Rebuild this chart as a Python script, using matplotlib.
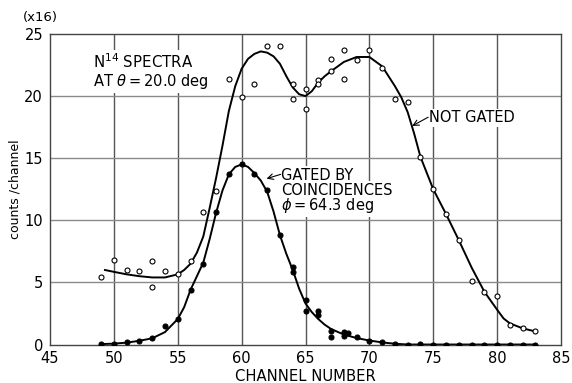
import matplotlib
matplotlib.use("Agg")
import matplotlib.pyplot as plt

# puntos medidos, sin coincidencias (circulos abiertos)
canal_libre = [49, 50, 51, 52, 53, 53, 54, 55, 56, 57, 58, 59, 60, 61, 62, 63, 64, 64,
               65, 65, 66, 66, 67, 67, 68, 68, 69, 70, 71, 72, 73, 74, 75, 76, 77, 78,
               79, 80, 81, 82, 83]
cuentas_libre = [5.4, 6.8, 6.0, 5.9, 6.7, 4.6, 5.9, 5.7, 6.7, 10.7, 12.4, 21.4, 19.9, 21.0,
                 24.0, 24.0, 21.0, 19.8, 20.6, 19.0, 21.3, 21.0, 23.0, 22.0, 23.7, 21.4,
                 22.9, 23.7, 22.3, 19.8, 19.5, 15.1, 12.5, 10.5, 8.4, 5.1, 4.25, 3.9,
                 1.6, 1.3, 1.07]

# puntos con coincidencias (circulos llenos)
canal_coinc = [49, 50, 51, 52, 53, 54, 55, 56, 57, 58, 59, 60, 61, 62, 63, 64, 64, 65, 65,
               66, 66, 67, 67, 68, 68, 68.35, 69, 70, 71, 72, 73, 74, 75, 76, 77, 78, 79,
               80, 81, 82, 83]
cuentas_coinc = [0.08, 0.08, 0.19, 0.3, 0.5, 1.45, 2.05, 4.4, 6.5, 10.7, 13.75, 14.5, 13.7,
                 12.45, 8.8, 6.27, 5.83, 3.55, 2.66, 2.72, 2.38, 1.07, 0.57, 1.02, 0.72,
                 0.89, 0.62, 0.32, 0.21, 0.03, 0.0, 0.07, 0.0, 0.0, 0.0, 0.0, 0.0, 0.0,
                 0.0, 0.0, 0.0]

# curvas dibujadas a mano
curva_libre_x = [49.3, 50, 51, 52, 53, 54, 55, 55.5, 56, 56.5, 57, 57.5, 58, 58.5, 59, 59.5,
                 60, 60.5, 61, 61.5, 62, 62.5, 63, 63.5, 64, 64.5, 65, 65.5, 66, 66.5, 67,
                 68, 69, 70, 71, 72, 72.5, 73, 73.5, 74, 74.5, 75, 76, 77, 78, 79, 80,
                 80.5, 81, 82, 83]
curva_libre_y = [6.0, 5.85, 5.65, 5.5, 5.4, 5.4, 5.65, 6.0, 6.5, 7.4, 8.7, 11.0, 13.4, 16.0,
                 18.8, 20.8, 22.2, 23.0, 23.4, 23.6, 23.5, 23.2, 22.6, 21.6, 20.7, 20.15,
                 20.0, 20.4, 21.1, 21.6, 22.0, 22.75, 23.15, 23.15, 22.4, 20.8, 19.9, 18.7,
                 17.0, 15.1, 13.8, 12.5, 10.5, 8.4, 6.2, 4.25, 2.8, 2.1, 1.7, 1.3, 1.05]

curva_coinc_x = [49, 50, 51, 52, 53, 54, 55, 55.5, 56, 57, 57.5, 58, 58.5, 59, 59.5, 60,
                 60.5, 61, 61.5, 62, 62.5, 63, 63.5, 64, 64.5, 65, 65.5, 66, 66.5, 67, 68,
                 69, 70, 71, 72, 73, 83]
curva_coinc_y = [0.03, 0.07, 0.15, 0.3, 0.5, 1.0, 2.05, 3.0, 4.4, 6.6, 8.5, 10.6, 12.4,
                 13.7, 14.3, 14.5, 14.3, 13.8, 13.2, 12.3, 10.7, 8.8, 7.3, 6.0, 4.5, 3.3,
                 2.6, 2.05, 1.6, 1.25, 0.8, 0.52, 0.32, 0.17, 0.06, 0.0, 0.0]

ticks_x = [45, 50, 55, 60, 65, 70, 75, 80, 85]
ticks_y = [0, 5, 10, 15, 20, 25]

plt.rcParams['font.family'] = ['DejaVu Sans']
fig = plt.figure(figsize=(5.72, 3.83), dpi=100)
ax = fig.add_axes([0.0874, 0.1005, 0.8934, 0.8107])

for x in ticks_x[1:-1]:
    ax.axvline(x, color='#555555', lw=1.0, zorder=0)
for y in ticks_y[1:-1]:
    ax.axhline(y, color='#8a8a8a', lw=1.0, zorder=0)

ax.plot(curva_libre_x, curva_libre_y, color='black', lw=1.4, zorder=2)
ax.plot(curva_coinc_x, curva_coinc_y, color='black', lw=1.4, zorder=2)
ax.plot(canal_libre, cuentas_libre, 'o', ms=3.6, mfc='white', mec='black', mew=0.8, zorder=3)
ax.plot(canal_coinc, cuentas_coinc, 'o', ms=3.6, mfc='black', mec='black', mew=0.8, zorder=3)

ax.set_xlim(45, 85)
ax.set_ylim(0, 25)
ax.set_xticks(ticks_x)
ax.set_yticks(ticks_y)
ax.tick_params(length=0, labelsize=10.5, pad=5)
for s in ax.spines.values():
    s.set_color('#444444')
    s.set_linewidth(1.0)

ax.set_xlabel('CHANNEL NUMBER', fontsize=10.6, va='baseline')
ax.xaxis.set_label_coords(0.5, -0.118)
ax.set_ylabel('counts /channel', fontsize=9, labelpad=2)
fig.text(40 / 572, 1 - 18 / 383, '(x16)', ha='center', va='center', fontsize=9.5)

caja = dict(facecolor='white', edgecolor='none', pad=1)
ax.text(48.35, 22.3, r'N$^{14}$ SPECTRA', fontsize=10.8, bbox=caja, zorder=4)
ax.text(48.35, 20.8, r'AT $\theta = 20.0$ deg', fontsize=10.5, bbox=caja, zorder=4)

ax.text(63.1, 13.27, 'GATED BY', fontsize=10.5, bbox=caja, zorder=4)
ax.text(63.1, 12.05, 'COINCIDENCES', fontsize=10.5, bbox=caja, zorder=4)
ax.text(63.1, 10.8, r'$\phi = 64.3$ deg', fontsize=10.5, bbox=caja, zorder=4)
ax.annotate('', xy=(61.95, 13.35), xytext=(63.05, 13.7), zorder=4,
            arrowprops=dict(arrowstyle='->', color='black', lw=0.8, shrinkA=0, shrinkB=0))

ax.text(74.65, 17.9, 'NOT GATED', fontsize=10.5, bbox=caja, zorder=4)
ax.annotate('', xy=(73.35, 17.6), xytext=(74.6, 18.3), zorder=4,
            arrowprops=dict(arrowstyle='->', color='black', lw=0.8, shrinkA=0, shrinkB=0))

fig.savefig('out.png', dpi=100)
